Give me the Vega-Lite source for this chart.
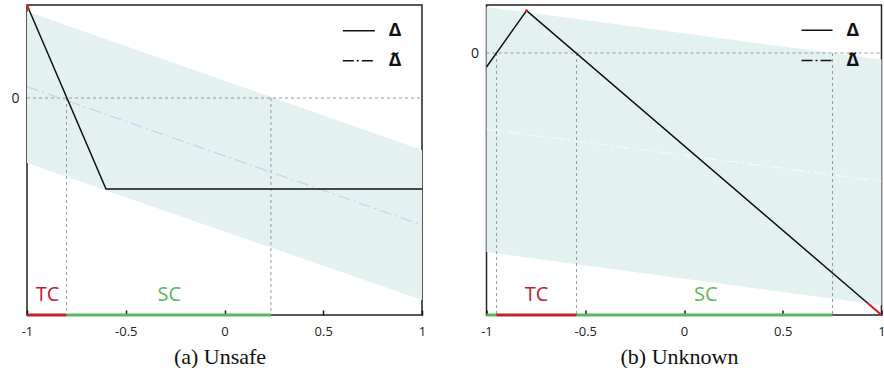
{
  "$schema": "https://vega.github.io/schema/vega-lite/v6.json",
  "padding": {"left": 10, "top": 0, "right": 0, "bottom": 0},
  "spacing": 42.5,
  "background": "white",
  "config": {
    "view": {"stroke": "#222", "strokeWidth": 1.5},
    "axis": {"grid": false, "domain": false},
    "text": {"font": "Open Sans"}
  },
  "datasets": {
    "bandA": [{"x": -1, "y": 86.5, "y2": -65}, {"x": 1, "y": -52, "y2": -202}],
    "guideA": [
      {"x": -1, "x2": 1, "y": 0, "y2": 0},
      {"x": -0.8, "x2": -0.8, "y": 0, "y2": -217},
      {"x": 0.235, "x2": 0.235, "y": 0, "y2": -217}
    ],
    "tildeA": [{"x": -1, "y": 11.3}, {"x": 1, "y": -127}],
    "deltaA": [{"x": -1, "y": 93}, {"x": -0.6, "y": -91}, {"x": 1, "y": -91}],
    "redA": [{"x": -1, "y": 93}, {"x": -0.99, "y": 88.4}],
    "regionA": [
      {"x": -1, "x2": -0.8, "y": -217, "kind": "TC"},
      {"x": -0.8, "x2": 0.235, "y": -217, "kind": "SC"}
    ],
    "labelA": [
      {"x": -0.896, "y": -196.7, "text": "TC", "kind": "TC"},
      {"x": -0.28, "y": -196.7, "text": "SC", "kind": "SC"}
    ],
    "legLineA": [
      {"x": 0.599, "x2": 0.761, "y": 67.3, "style": "solid"},
      {"x": 0.599, "x2": 0.761, "y": 37.3, "style": "dashdot"}
    ],
    "legTextA": [
      {"x": 0.863, "y": 61.8, "text": "Δ"},
      {"x": 0.863, "y": 31.8, "text": "Δ̃"}
    ],
    "bandB": [{"x": -1, "y": 46, "y2": -199}, {"x": 1, "y": -6.6, "y2": -252.3}],
    "guideB": [
      {"x": -1, "x2": 1, "y": 0, "y2": 0},
      {"x": -0.949, "x2": -0.949, "y": 0, "y2": -262},
      {"x": -0.544, "x2": -0.544, "y": 0, "y2": -262},
      {"x": 0.752, "x2": 0.752, "y": 0, "y2": -262}
    ],
    "tildeB": [{"x": -1, "y": -76.3}, {"x": 1, "y": -128.3}],
    "deltaB": [{"x": -1, "y": -14}, {"x": -0.797, "y": 42.4}, {"x": 1, "y": -262}],
    "redB": [{"x": 0.929, "y": -250}, {"x": 1, "y": -262}],
    "peakB": [{"x": -0.797, "y": 42.4}],
    "regionB": [
      {"x": -1, "x2": -0.949, "y": -262, "kind": "SC"},
      {"x": -0.949, "x2": -0.544, "y": -262, "kind": "TC"},
      {"x": -0.544, "x2": 0.752, "y": -262, "kind": "SC"}
    ],
    "labelB": [
      {"x": -0.747, "y": -242, "text": "TC", "kind": "TC"},
      {"x": 0.11, "y": -242, "text": "SC", "kind": "SC"}
    ],
    "legLineB": [
      {"x": 0.595, "x2": 0.752, "y": 22.7, "style": "solid"},
      {"x": 0.595, "x2": 0.752, "y": -7.6, "style": "dashdot"}
    ],
    "legTextB": [
      {"x": 0.854, "y": 17.2, "text": "Δ"},
      {"x": 0.854, "y": -13.1, "text": "Δ̃"}
    ]
  },
  "hconcat": [
    {
      "width": 395,
      "height": 310,
      "encoding": {
        "x": {"field": "x", "type": "quantitative", "scale": {"domain": [-1, 1], "nice": false, "zero": false},
          "axis": {"values": [-1, -0.5, 0, 0.5, 1], "labelFlush": false, "tickSize": -5, "tickWidth": 1.5, "tickColor": "#111",
            "labelExpr": "replace(format(datum.value, '~g'), '\u2212', '-')", "labelFont": "Open Sans", "labelFontSize": 13, "labelColor": "#222", "labelPadding": 15,
            "title": "(a) Unsafe", "titleFont": "Liberation Serif", "titleFontSize": 22, "titleFontWeight": "normal", "titleColor": "#111", "titlePadding": 8, "titleX": 192.5, "titleAlign": "center"}},
        "y": {"field": "y", "type": "quantitative", "scale": {"domain": [-217, 93], "nice": false, "zero": false},
          "axis": {"values": [0], "ticks": false, "labelFont": "Open Sans", "labelFontSize": 14, "labelColor": "#222", "labelPadding": 8, "title": null}}
      },
      "layer": [
        {"data": {"name": "bandA"}, "mark": {"type": "area", "color": "#e3f2f1", "opacity": 1}, "encoding": {"y2": {"field": "y2"}}},
        {"data": {"name": "guideA"}, "mark": {"type": "rule", "color": "#999", "strokeWidth": 1, "strokeDash": [3, 3]}, "encoding": {"x2": {"field": "x2"}, "y2": {"field": "y2"}}},
        {"data": {"name": "tildeA"}, "mark": {"type": "line", "color": "#c4d5ef", "strokeWidth": 1.3, "strokeDash": [12, 4, 2, 4]}, "encoding": {}},
        {"data": {"name": "deltaA"}, "mark": {"type": "line", "color": "#111", "strokeWidth": 1.5}, "encoding": {}},
        {"data": {"name": "redA"}, "mark": {"type": "line", "color": "#e8201c", "strokeWidth": 2}, "encoding": {}},
        {"data": {"name": "regionA"}, "mark": {"type": "rule", "strokeWidth": 3}, "encoding": {"x2": {"field": "x2"},
          "color": {"field": "kind", "type": "nominal", "scale": {"domain": ["TC", "SC"], "range": ["#bf2233", "#5cb85c"]}, "legend": null}}},
        {"data": {"name": "labelA"}, "mark": {"type": "text", "fontSize": 20, "align": "center", "baseline": "middle"}, "encoding": {"text": {"field": "text"},
          "color": {"field": "kind", "type": "nominal", "scale": {"domain": ["TC", "SC"], "range": ["#bf2233", "#5cb85c"]}, "legend": null}}},
        {"data": {"name": "legLineA"}, "mark": {"type": "rule", "color": "#111", "strokeWidth": 1.5}, "encoding": {"x2": {"field": "x2"},
          "strokeDash": {"field": "style", "type": "nominal", "scale": {"domain": ["solid", "dashdot"], "range": [[1, 0], [11, 3, 2, 3]]}, "legend": null}}},
        {"data": {"name": "legTextA"}, "mark": {"type": "text", "font": "Noto Sans", "fontSize": 18, "fontWeight": "bold", "align": "center", "baseline": "alphabetic", "color": "#111"}, "encoding": {"text": {"field": "text"}}}
      ]
    },
    {
      "width": 395,
      "height": 310,
      "encoding": {
        "x": {"field": "x", "type": "quantitative", "scale": {"domain": [-1, 1], "nice": false, "zero": false},
          "axis": {"values": [-1, -0.5, 0, 0.5, 1], "labelFlush": false, "tickSize": -5, "tickWidth": 1.5, "tickColor": "#111",
            "labelExpr": "replace(format(datum.value, '~g'), '\u2212', '-')", "labelFont": "Open Sans", "labelFontSize": 13, "labelColor": "#222", "labelPadding": 15,
            "title": "(b) Unknown", "titleFont": "Liberation Serif", "titleFontSize": 22, "titleFontWeight": "normal", "titleColor": "#111", "titlePadding": 8, "titleX": 192.5, "titleAlign": "center"}},
        "y": {"field": "y", "type": "quantitative", "scale": {"domain": [-262, 48], "nice": false, "zero": false},
          "axis": {"values": [0], "ticks": false, "labelFont": "Open Sans", "labelFontSize": 14, "labelColor": "#222", "labelPadding": 8, "title": null}}
      },
      "layer": [
        {"data": {"name": "bandB"}, "mark": {"type": "area", "color": "#e3f2f1", "opacity": 1}, "encoding": {"y2": {"field": "y2"}}},
        {"data": {"name": "tildeB"}, "mark": {"type": "line", "color": "#ffffff", "opacity": 0.6, "strokeWidth": 1.3, "strokeDash": [12, 4, 2, 4]}, "encoding": {}},
        {"data": {"name": "guideB"}, "mark": {"type": "rule", "color": "#999", "strokeWidth": 1, "strokeDash": [3, 3]}, "encoding": {"x2": {"field": "x2"}, "y2": {"field": "y2"}}},
        {"data": {"name": "deltaB"}, "mark": {"type": "line", "color": "#111", "strokeWidth": 1.5}, "encoding": {}},
        {"data": {"name": "redB"}, "mark": {"type": "line", "color": "#e8201c", "strokeWidth": 1.8}, "encoding": {}},
        {"data": {"name": "peakB"}, "mark": {"type": "point", "filled": true, "color": "#e8201c", "size": 8, "opacity": 1}, "encoding": {}},
        {"data": {"name": "regionB"}, "mark": {"type": "rule", "strokeWidth": 3}, "encoding": {"x2": {"field": "x2"},
          "color": {"field": "kind", "type": "nominal", "scale": {"domain": ["TC", "SC"], "range": ["#bf2233", "#5cb85c"]}, "legend": null}}},
        {"data": {"name": "labelB"}, "mark": {"type": "text", "fontSize": 20, "align": "center", "baseline": "middle"}, "encoding": {"text": {"field": "text"},
          "color": {"field": "kind", "type": "nominal", "scale": {"domain": ["TC", "SC"], "range": ["#bf2233", "#5cb85c"]}, "legend": null}}},
        {"data": {"name": "legLineB"}, "mark": {"type": "rule", "color": "#111", "strokeWidth": 1.5}, "encoding": {"x2": {"field": "x2"},
          "strokeDash": {"field": "style", "type": "nominal", "scale": {"domain": ["solid", "dashdot"], "range": [[1, 0], [11, 3, 2, 3]]}, "legend": null}}},
        {"data": {"name": "legTextB"}, "mark": {"type": "text", "font": "Noto Sans", "fontSize": 18, "fontWeight": "bold", "align": "center", "baseline": "alphabetic", "color": "#111"}, "encoding": {"text": {"field": "text"}}}
      ]
    }
  ]
}
